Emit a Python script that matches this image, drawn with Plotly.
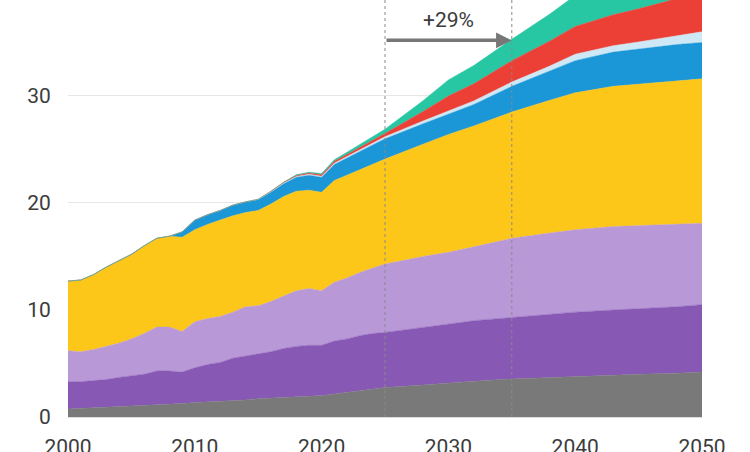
import plotly.graph_objects as go

years = [2000, 2001, 2002, 2003, 2004, 2005, 2006, 2007, 2008, 2009,
         2010, 2011, 2012, 2013, 2014, 2015, 2016, 2017, 2018, 2019,
         2020, 2021, 2022, 2023, 2024, 2025, 2028, 2030, 2032, 2035,
         2038, 2040, 2043, 2045, 2048, 2050]

# layer thicknesses (stacked bottom to top)
gray = [0.75, 0.8, 0.85, 0.9, 0.95, 1.0, 1.05, 1.1, 1.2, 1.25,
        1.35, 1.4, 1.45, 1.5, 1.6, 1.7, 1.75, 1.8, 1.9, 1.95,
        2.0, 2.15, 2.3, 2.45, 2.6, 2.75, 3.0, 3.2, 3.35, 3.55,
        3.7, 3.8, 3.9, 4.0, 4.1, 4.2]
dark_purple_top = [3.3, 3.3, 3.4, 3.5, 3.7, 3.85, 4.0, 4.3, 4.3, 4.2,
                   4.6, 4.9, 5.1, 5.5, 5.7, 5.9, 6.1, 6.4, 6.6, 6.7,
                   6.7, 7.1, 7.3, 7.6, 7.8, 7.9, 8.4, 8.7, 9.0, 9.3,
                   9.6, 9.8, 10.0, 10.1, 10.3, 10.5]
light_purple_top = [6.2, 6.1, 6.3, 6.6, 6.9, 7.3, 7.8, 8.4, 8.4, 8.0,
                    8.9, 9.2, 9.4, 9.8, 10.3, 10.4, 10.8, 11.3, 11.8, 12.0,
                    11.8, 12.6, 13.0, 13.5, 13.9, 14.3, 15.0, 15.4, 15.9, 16.7,
                    17.2, 17.5, 17.8, 17.9, 18.0, 18.1]
yellow_top = [12.7, 12.8, 13.3, 14.0, 14.6, 15.2, 16.0, 16.7, 16.9, 16.8,
              17.5, 18.0, 18.4, 18.8, 19.1, 19.3, 19.9, 20.6, 21.1, 21.2,
              21.0, 22.1, 22.6, 23.1, 23.6, 24.1, 25.5, 26.4, 27.2, 28.5,
              29.6, 30.3, 30.9, 31.1, 31.4, 31.6]
blue = [0, 0, 0, 0, 0, 0, 0, 0, 0, 0.5,
        0.9, 0.9, 0.9, 1.0, 1.0, 1.0, 1.1, 1.2, 1.3, 1.4,
        1.4, 1.5, 1.6, 1.7, 1.8, 1.9, 1.9, 1.9, 2.0, 2.4,
        2.7, 3.0, 3.2, 3.3, 3.4, 3.4]
light_blue = [0, 0, 0, 0, 0, 0, 0, 0, 0, 0,
              0, 0, 0, 0, 0, 0.05, 0.05, 0.06, 0.08, 0.09,
              0.1, 0.12, 0.14, 0.16, 0.18, 0.2, 0.26, 0.3, 0.34, 0.4,
              0.5, 0.6, 0.6, 0.65, 0.8, 1.0]
red = [0, 0, 0, 0, 0, 0, 0, 0, 0, 0,
       0, 0, 0, 0, 0, 0, 0.05, 0.07, 0.1, 0.12,
       0.15, 0.17, 0.2, 0.24, 0.27, 0.3, 0.9, 1.4, 1.6, 2.0,
       2.35, 2.6, 2.9, 3.1, 3.5, 4.0]
teal = [0, 0, 0, 0, 0, 0, 0, 0, 0, 0,
        0, 0, 0, 0, 0, 0, 0, 0, 0.05, 0.07,
        0.1, 0.14, 0.2, 0.28, 0.34, 0.4, 1.0, 1.5, 1.7, 2.0,
        2.5, 2.9, 3.3, 3.5, 3.8, 4.0]

dark_purple = [round(t - g, 3) for t, g in zip(dark_purple_top, gray)]
light_purple = [round(t - b, 3) for t, b in zip(light_purple_top, dark_purple_top)]
yellow = [round(t - b, 3) for t, b in zip(yellow_top, light_purple_top)]

series = [
    ("Gray", gray, "#797979"),
    ("Dark purple", dark_purple, "#8758b4"),
    ("Light purple", light_purple, "#b898d6"),
    ("Yellow", yellow, "#fdc71a"),
    ("Blue", blue, "#1b96d7"),
    ("Light blue", light_blue, "#cfe8f5"),
    ("Red", red, "#ec3f36"),
    ("Teal", teal, "#27c7a3"),
]

y_ticks = [0, 10, 20, 30]
x_ticks = [2000, 2010, 2020, 2030, 2040, 2050]
marker_years = [2025, 2035]
growth_label = "+29%"

fig = go.Figure()
for name, vals, col in series:
    fig.add_trace(go.Scatter(
        x=years, y=vals, name=name, mode="lines", stackgroup="one",
        line=dict(width=0.5, color=col), fillcolor=col,
        hoverinfo="skip"))

for yr in marker_years:
    fig.add_shape(type="line", x0=yr, x1=yr, xref="x", y0=0, y1=1, yref="paper",
                  line=dict(color="#8a8a8a", width=1, dash="dot"), layer="above")

fig.add_annotation(x=marker_years[1], y=35.2, ax=marker_years[0], ay=35.2,
                   xref="x", yref="y", axref="x", ayref="y", text="",
                   showarrow=True, arrowhead=2, arrowsize=0.9, arrowwidth=3.5,
                   arrowcolor="#777777")
fig.add_annotation(x=(marker_years[0] + marker_years[1]) / 2, y=37.1,
                   xref="x", yref="y", text=growth_label, showarrow=False,
                   font=dict(size=21, color="#3c3c3c", family="Roboto"))

fig.update_layout(
    width=750, height=452,
    margin=dict(l=68, r=48, t=0, b=35),
    paper_bgcolor="white", plot_bgcolor="white",
    showlegend=False,
    font=dict(family="Roboto", size=21, color="#3c3c3c"),
    xaxis=dict(range=[2000, 2050], tickvals=x_ticks, showgrid=False,
               showline=True, linecolor="#dddddd", zeroline=False,
               ticks="outside", ticklen=11, tickcolor="rgba(0,0,0,0)",
               automargin=False,
               tickfont=dict(size=21, color="#3c3c3c")),
    yaxis=dict(range=[0, 38.97], tickvals=y_ticks, showgrid=True,
               gridcolor="#e6e6e6", gridwidth=1, zeroline=False,
               ticks="outside", ticklen=12, tickcolor="rgba(0,0,0,0)",
               automargin=False,
               tickfont=dict(size=21, color="#3c3c3c")),
)

fig.write_html("out.html")
